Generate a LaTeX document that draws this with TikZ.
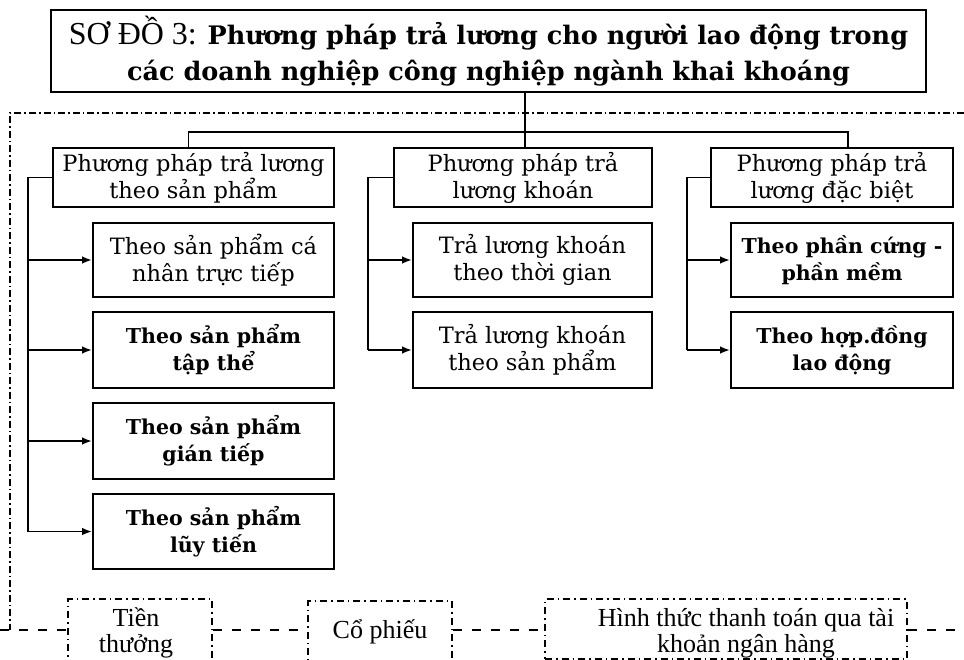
\documentclass[tikz,border=0pt]{standalone}
\usepackage{fontspec}
\setmainfont{DejaVu Serif}
\newfontfamily\tms{Liberation Serif}
\usetikzlibrary{arrows.meta}
\tikzset{
  box/.style={draw, line width=1.8pt, inner sep=0pt, align=center},
  boxtext/.style={font=\fontsize{22.5}{27}\selectfont},
  boldtext/.style={font=\fontsize{20.5}{27}\selectfont\bfseries},
  conn/.style={line width=1.8pt},
  arr/.style={line width=1.8pt, -{Latex[length=10pt,width=7.5pt]}},
  frame/.style={line width=1.2pt, dash pattern=on 7pt off 3pt on 1.5pt off 3pt},
  dbox/.style={draw, line width=1.2pt, dash pattern=on 7pt off 4pt on 1.5pt off 4pt, inner sep=0pt},
  dtext/.style={inner sep=0pt, align=center, font=\tms\fontsize{26}{26}\selectfont},
  bline/.style={line width=1.2pt, dash pattern=on 9pt off 10pt}
}
\begin{document}
\begin{tikzpicture}[x=1pt,y=-1pt]
\clip (0,0) rectangle (964,659);
\fill[white] (0,0) rectangle (964,659);
% title
\node[box, minimum width=875pt, minimum height=82pt, font=\fontsize{25.5}{36}\selectfont] (title) at (488.5,51)
  {{\tms\fontsize{32}{36}\selectfont SƠ ĐỒ 3:} \textbf{Phương pháp trả lương cho người lao động trong}\\ \textbf{các doanh nghiệp công nghiệp ngành khai khoáng}};
% level 1
\node[box, boxtext, minimum width=281pt, minimum height=59pt] (b1) at (193.5,177.5) {Phương pháp trả lương\\theo sản phẩm};
\node[box, boxtext, minimum width=258pt, minimum height=59pt] (b2) at (523,177.5) {Phương pháp trả\\lương khoán};
\node[box, boxtext, minimum width=242pt, minimum height=59pt] (b3) at (832,177.5) {Phương pháp trả\\lương đặc biệt};
% level 2 left
\node[box, boxtext, minimum width=241pt, minimum height=74pt] (c11) at (213.5,260) {Theo sản phẩm cá\\nhân trực tiếp};
\node[box, boldtext, minimum width=241pt, minimum height=76pt] (c12) at (213.5,350) {Theo sản phẩm\\tập thể};
\node[box, boldtext, minimum width=241pt, minimum height=76pt] (c13) at (213.5,441) {Theo sản phẩm\\gián tiếp};
\node[box, boldtext, minimum width=241pt, minimum height=75pt] (c14) at (213.5,531.5) {Theo sản phẩm\\lũy tiến};
% level 2 middle
\node[box, boxtext, minimum width=239pt, minimum height=74pt] (c21) at (532.5,260) {Trả lương khoán\\theo thời gian};
\node[box, boxtext, minimum width=239pt, minimum height=76pt] (c22) at (532.5,350) {Trả lương khoán\\theo sản phẩm};
% level 2 right
\node[box, boldtext, minimum width=222pt, minimum height=74pt] (c31) at (842,260) {Theo phần cứng -\\phần mềm};
\node[box, boldtext, minimum width=222pt, minimum height=76pt] (c32) at (842,350) {Theo hợp.đồng\\lao động};
% top connectors
\coordinate (hub) at (525,132);
\draw[conn] (title.south -| hub) -- (hub |- b2.north);
\draw[conn] ([xshift=-5pt]b1.north) |- (hub) -| ([xshift=16pt]b3.north);
% branches
\coordinate (l1) at (28,177.5);
\coordinate (l2) at (368,177.5);
\coordinate (l3) at (687,177.5);
\draw[conn] (b1.west) -- (l1) -- (l1 |- c14.west);
\draw[conn] (b2.west) -- (l2) -- (l2 |- c22.west);
\draw[conn] (b3.west) -- (l3) -- (l3 |- c32.west);
\foreach \c in {c11,c12,c13,c14} \draw[arr] (l1 |- \c.west) -- (\c.west);
\foreach \c in {c21,c22} \draw[arr] (l2 |- \c.west) -- (\c.west);
\foreach \c in {c31,c32} \draw[arr] (l3 |- \c.west) -- (\c.west);
% outer frame
\coordinate (fr1) at (964,113);
\coordinate (fr2) at (10,113);
\coordinate (fr3) at (10,630);
\draw[frame] (fr1) -- (fr2) -- (fr3);
% bottom boxes
\node[dbox, minimum width=144pt, minimum height=63pt] (t1) at (140,630.5) {};
\node[dtext] (t1txt) at (136,633) {Tiền\\thưởng};
\node[dbox, minimum width=144pt, minimum height=61pt] (t2) at (380,631.5) {};
\node[dtext] (t2txt) at (380,632) {Cổ phiếu};
\node[dbox, minimum width=362pt, minimum height=60pt] (t3) at (726,629) {};
\node[dtext] (t3txt) at (746,633) {Hình thức thanh toán qua tài\\khoản ngân hàng};
\coordinate (bl0) at (0,630);
\coordinate (bl9) at (964,630);
\draw[bline] (bl0) -- (bl0 -| t1.west);
\draw[bline] (bl0 -| t1.east) -- (bl0 -| t2.west);
\draw[bline] (bl0 -| t2.east) -- (bl0 -| t3.west);
\draw[bline] (bl0 -| t3.east) -- (bl9);
\end{tikzpicture}
\end{document}
